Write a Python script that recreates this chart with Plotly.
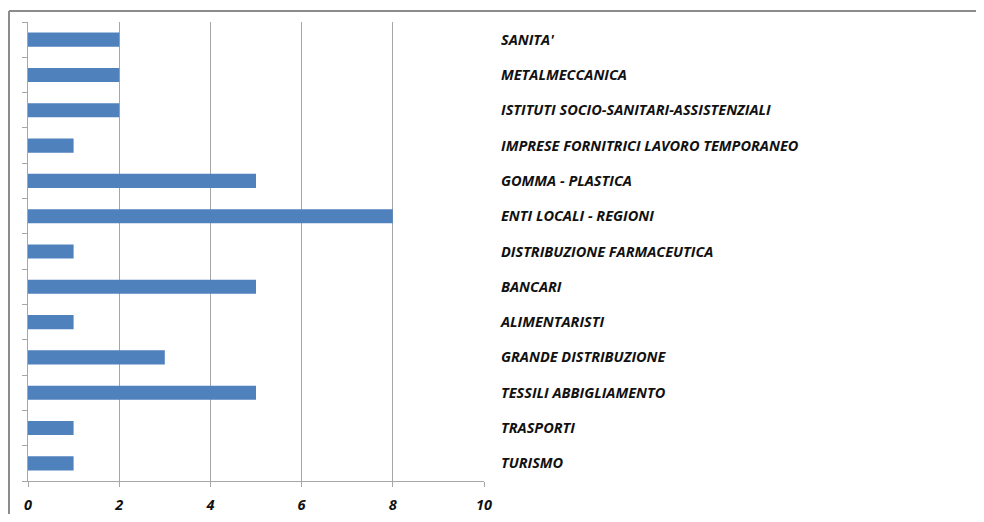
import plotly.graph_objects as go

categories = ["SANITA'", "METALMECCANICA", "ISTITUTI SOCIO-SANITARI-ASSISTENZIALI",
              "IMPRESE FORNITRICI LAVORO TEMPORANEO", "GOMMA - PLASTICA",
              "ENTI LOCALI - REGIONI", "DISTRIBUZIONE FARMACEUTICA", "BANCARI",
              "ALIMENTARISTI", "GRANDE DISTRIBUZIONE", "TESSILI ABBIGLIAMENTO",
              "TRASPORTI", "TURISMO"]
values = [2, 2, 2, 1, 5, 8, 1, 5, 1, 3, 5, 1, 1]
x_ticks = [0, 2, 4, 6, 8, 10]

OFF = 8  # page body margin
W, H = 984 - OFF, 522 - 2 * OFF
L, T = 28 - OFF, 22 - OFF
pw, ph = 456, 459
R, B = W - L - pw, H - T - ph

fnt = dict(family="Open Sans", size=14.5, color="#111111")
xfnt = dict(family="Open Sans", size=14.5, color="#111111")

fig = go.Figure()
fig.add_trace(go.Bar(
    y=categories, x=values, orientation="h",
    marker=dict(color="#4f81bd", line=dict(width=0)),
    showlegend=False, hoverinfo="x+y",
))
fig.add_trace(go.Scatter(x=[None], y=[None], yaxis="y2", showlegend=False))

fig.update_layout(
    width=W, height=H,
    margin=dict(l=L, r=R, t=T, b=B, autoexpand=False),
    paper_bgcolor="white", plot_bgcolor="white",
    bargap=0.6,
    font=fnt,
    xaxis=dict(range=[0, 10], tickvals=x_ticks, ticktext=[f"<b><i>{v}</i></b>" for v in x_ticks],
               showgrid=True, gridcolor="#a6a6a6", gridwidth=1,
               showline=True, linecolor="#a6a6a6", linewidth=1,
               ticks="outside", ticklen=5, tickcolor="#a6a6a6",
               zeroline=False, tickfont=xfnt, ticklabelstandoff=6, automargin=False),
    yaxis=dict(autorange="reversed", side="right", showgrid=False,
               tickvals=categories,
               ticktext=[f"<b><i>{c}</i></b>" for c in categories],
               showline=False, ticks="", zeroline=False,
               tickfont=fnt, ticklabelstandoff=16, automargin=False),
    yaxis2=dict(overlaying="y", side="left", range=[12.5, -0.5],
                tickvals=[i - 0.5 for i in range(len(categories) + 1)],
                showticklabels=False, ticks="outside", ticklen=5,
                tickcolor="#a6a6a6", showline=True, linecolor="#a6a6a6",
                linewidth=1, showgrid=False, zeroline=False, automargin=False),
)

bx = (9 - 28) / pw
by = 1 + (22 - 11) / ph
fig.add_shape(type="line", xref="paper", yref="paper",
              x0=bx, x1=(W - L) / pw, y0=by, y1=by,
              line=dict(color="#8c8c8c", width=2))
fig.add_shape(type="line", xref="paper", yref="paper",
              x0=bx, x1=bx, y0=-B / ph, y1=by,
              line=dict(color="#8c8c8c", width=2))

fig.write_html("out.html")
